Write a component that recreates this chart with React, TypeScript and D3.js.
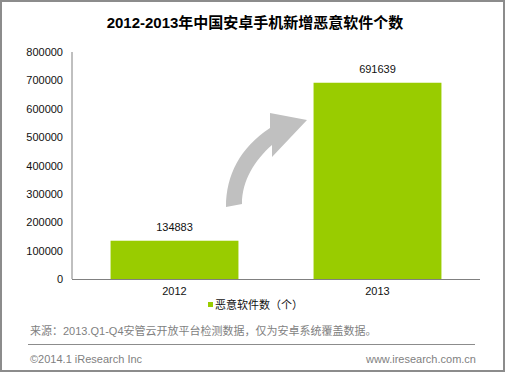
import * as d3 from 'd3';

const years = ['2012', '2013'];
const malwareCounts = [134883, 691639];
const yTicks = [0, 100000, 200000, 300000, 400000, 500000, 600000, 700000, 800000];

const title = '2012-2013年中国安卓手机新增恶意软件个数';
const legendLabel = '恶意软件数（个）';
const sourceNote = '来源：2013.Q1-Q4安管云开放平台检测数据，仅为安卓系统覆盖数据。';
const copyright = '©2014.1 iResearch Inc';
const website = 'www.iresearch.com.cn';

const font = '"Liberation Sans", "Noto Sans CJK SC", sans-serif';

export default function App() {
  const width = 505;
  const height = 372;
  const margin = { top: 52, right: 25, bottom: 93, left: 72 };

  const x = d3.scaleBand()
    .domain(years)
    .range([margin.left, width - margin.right])
    .paddingInner(0.37)
    .paddingOuter(0.19);

  const y = d3.scaleLinear()
    .domain([0, 800000])
    .range([height - margin.bottom, margin.top]);

  const green = '#99cc00';
  const axisColor = '#808080';

  return (
    <svg
      width={width}
      height={height}
      style={{ position: 'absolute', left: 0, top: 0, background: '#fff' }}
      fontFamily={font}
    >
      <rect x={1} y={1} width={width - 2} height={height - 2} fill="#fff" stroke="#8c8c8c" strokeWidth={2} />

      <text x={255} y={28} textAnchor="middle" fontSize={15} fontWeight="bold" fill="#000">{title}</text>

      {/* y axis */}
      <line x1={margin.left} x2={margin.left} y1={y(800000)} y2={y(0)} stroke={axisColor} />
      {yTicks.map(t => (
        <text key={t} x={63} y={y(t) + 4} textAnchor="end" fontSize={11} fill="#111">{t}</text>
      ))}

      {/* bars */}
      {years.map((yr, i) => (
        <g key={yr}>
          <rect
            x={x(yr) || 0}
            y={y(malwareCounts[i])}
            width={x.bandwidth()}
            height={y(0) - y(malwareCounts[i])}
            fill={green}
          />
          <text
            x={(x(yr) || 0) + x.bandwidth() / 2}
            y={y(malwareCounts[i]) - 10}
            textAnchor="middle"
            fontSize={11}
            fill="#111"
          >{malwareCounts[i]}</text>
          <text
            x={(x(yr) || 0) + x.bandwidth() / 2}
            y={y(0) + 16}
            textAnchor="middle"
            fontSize={11}
            fill="#111"
          >{yr}</text>
        </g>
      ))}

      {/* x axis */}
      <line x1={margin.left} x2={width - margin.right} y1={y(0) + 0.5} y2={y(0) + 0.5} stroke={axisColor} />

      {/* growth arrow */}
      <path
        d="M226,207 C226,175 240,148 270,128 L270,113 L307,120 L272,157 L272,145 C255,160 242,180 242,204 Z"
        fill="#c0c0c0"
      />

      {/* legend */}
      <rect x={208} y={302} width={5} height={5} fill={green} />
      <text x={215} y={309} fontSize={11} fill="#111">{legendLabel}</text>

      {/* footer */}
      <text x={30} y={335} fontSize={11} fill="#7f7f7f">{sourceNote}</text>
      <line x1={28} x2={475} y1={344.5} y2={344.5} stroke="#8c8c8c" />
      <text x={30} y={363} fontSize={11} fill="#7f7f7f">{copyright}</text>
      <text x={476} y={363} textAnchor="end" fontSize={11} fill="#7f7f7f">{website}</text>
    </svg>
  );
}
